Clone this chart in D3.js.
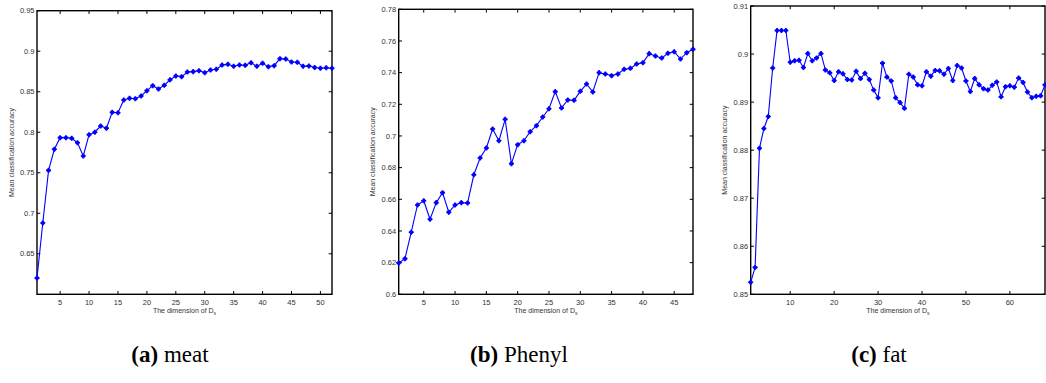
<!DOCTYPE html>
<html><head><meta charset="utf-8">
<script src="https://cdn.jsdelivr.net/npm/d3@7"></script>
<style>
html,body{margin:0;padding:0;background:#fff;}
svg{display:block;}
</style></head>
<body><svg id="chart" width="1046" height="383"></svg>
<script>
// ---- data ----
const meatValues = [0.620,0.688,0.753,0.779,0.7933,0.7933,0.7925,0.787,0.7707,0.797,0.800,0.8077,0.805,0.8246,0.8241,0.8398,0.8419,0.8414,0.8447,0.8513,0.8575,0.8534,0.8579,0.8648,0.8694,0.8686,0.8744,0.8748,0.876,0.8735,0.8768,0.8777,0.883,0.8838,0.8814,0.883,0.8826,0.8858,0.8814,0.8851,0.8809,0.8822,0.8908,0.8904,0.8867,0.8863,0.8814,0.8818,0.8800,0.8790,0.8795,0.8790];
const phenylValues = [0.6198,0.6225,0.6392,0.6564,0.6591,0.6474,0.6579,0.6642,0.6518,0.6564,0.6579,0.6577,0.6755,0.6861,0.6924,0.7044,0.697,0.7105,0.6825,0.6945,0.697,0.7027,0.7065,0.712,0.7172,0.728,0.7177,0.7227,0.7225,0.7282,0.7328,0.7278,0.740,0.7391,0.7381,0.7391,0.7421,0.7427,0.7454,0.7463,0.752,0.7505,0.7492,0.7522,0.7532,0.7486,0.7526,0.7547];
const fatValues = [0.8525,0.8556,0.8804,0.8845,0.887,0.8971,0.9049,0.9049,0.9049,0.8983,0.8986,0.8987,0.8972,0.9001,0.8986,0.8992,0.9001,0.8967,0.8961,0.8945,0.8963,0.8959,0.8947,0.8946,0.8964,0.8949,0.896,0.8947,0.8925,0.8909,0.8981,0.8952,0.8944,0.8909,0.8899,0.8887,0.8958,0.8952,0.8936,0.8934,0.8963,0.8954,0.8966,0.8965,0.8958,0.897,0.8945,0.8976,0.8971,0.8944,0.8922,0.8949,0.8936,0.8928,0.8925,0.8935,0.8942,0.8911,0.8932,0.8934,0.8931,0.895,0.8941,0.8921,0.8909,0.8912,0.8913,0.8936];

const meatXTicks = [5,10,15,20,25,30,35,40,45,50];
const meatYTicks = [0.65,0.7,0.75,0.8,0.85,0.9,0.95];
const phenylXTicks = [5,10,15,20,25,30,35,40,45];
const phenylYTicks = [0.6,0.62,0.64,0.66,0.68,0.7,0.72,0.74,0.76,0.78];
const fatXTicks = [10,20,30,40,50,60];
const fatYTicks = [0.85,0.86,0.87,0.88,0.89,0.9,0.91];

const captionLetters = ["(a)","(b)","(c)"];
const captionNames = [" meat"," Phenyl"," fat"];
const yLabel = "Mean classification accuracy";
const xLabelMain = "The dimension of D";
const xLabelSub = "s";

// ---- layout ----
const panels = [
  {values: meatValues, xTicks: meatXTicks, yTicks: meatYTicks, xDomain:[1,52], yDomain:[0.6,0.95],
   left:37, right:332, top:10.7, bottom:294.3, capX:170},
  {values: phenylValues, xTicks: phenylXTicks, yTicks: phenylYTicks, xDomain:[1,48], yDomain:[0.6,0.78],
   left:398.7, right:693, top:9.3, bottom:294.3, capX:519},
  {values: fatValues, xTicks: fatXTicks, yTicks: fatYTicks, xDomain:[1,68], yDomain:[0.85,0.91],
   left:750.7, right:1045, top:6, bottom:294.3, capX:879}
];

const svg = d3.select("#chart");
const fmt = v => String(+v.toFixed(3));

panels.forEach((p, k) => {
  const x = d3.scaleLinear().domain(p.xDomain).range([p.left, p.right]);
  const y = d3.scaleLinear().domain(p.yDomain).range([p.bottom, p.top]);
  const g = svg.append("g");

  const tl = 3.3;
  p.xTicks.forEach(t => {
    g.append("line").attr("x1", x(t)).attr("x2", x(t)).attr("y1", p.bottom).attr("y2", p.bottom - tl).attr("stroke","#000").attr("stroke-width",1);
    g.append("line").attr("x1", x(t)).attr("x2", x(t)).attr("y1", p.top).attr("y2", p.top + tl).attr("stroke","#000").attr("stroke-width",1);
    g.append("text").attr("x", x(t)).attr("y", p.bottom + 10.5).attr("text-anchor","middle")
      .attr("font-family","Liberation Sans, Arial, sans-serif").attr("font-size",7.5).attr("fill","#333").text(t);
  });
  p.yTicks.forEach(t => {
    g.append("line").attr("x1", p.left).attr("x2", p.left + tl).attr("y1", y(t)).attr("y2", y(t)).attr("stroke","#000").attr("stroke-width",1);
    g.append("line").attr("x1", p.right).attr("x2", p.right - tl).attr("y1", y(t)).attr("y2", y(t)).attr("stroke","#000").attr("stroke-width",1);
    g.append("text").attr("x", p.left - 2.5).attr("y", y(t) + 2.6).attr("text-anchor","end")
      .attr("font-family","Liberation Sans, Arial, sans-serif").attr("font-size",7.5).attr("fill","#333").text(fmt(t));
  });

  g.append("rect").attr("x", p.left).attr("y", p.top).attr("width", p.right - p.left).attr("height", p.bottom - p.top)
    .attr("fill","none").attr("stroke","#000").attr("stroke-width",1.4);

  const data = p.values.map((v, i) => [i + 1, v]);
  g.append("path").datum(data).attr("fill","none").attr("stroke","#0000ff").attr("stroke-width",1.1)
    .attr("d", d3.line().x(d => x(d[0])).y(d => y(d[1])));
  g.selectAll("circle.m").data(data).enter().append("circle").attr("class","m")
    .attr("cx", d => x(d[0])).attr("cy", d => y(d[1])).attr("r", 2).attr("fill","#0000ff");
  const star = d3.symbol().type(d3.symbolCross).size(14);
  g.selectAll("path.s").data(data).enter().append("path").attr("class","s")
    .attr("transform", d => `translate(${x(d[0])},${y(d[1])})`).attr("d", star()).attr("fill","#0000ff");

  const cy = (p.top + p.bottom) / 2;
  g.append("text").attr("transform", `translate(${p.left - 23.5},${cy}) rotate(-90)`).attr("text-anchor","middle")
    .attr("font-family","Liberation Sans, Arial, sans-serif").attr("font-size",7).attr("fill","#333").text(yLabel);

  const cx = (p.left + p.right) / 2;
  const xt = g.append("text").attr("x", cx).attr("y", p.bottom + 19).attr("text-anchor","middle")
    .attr("font-family","Liberation Sans, Arial, sans-serif").attr("font-size",7).attr("fill","#333");
  xt.append("tspan").text(xLabelMain);
  xt.append("tspan").attr("font-size",5).attr("dy",1.8).text(xLabelSub);

  const cap = svg.append("text").attr("x", p.capX).attr("y", 362).attr("text-anchor","middle")
    .attr("font-family","Liberation Serif, Times New Roman, serif").attr("font-size",23).attr("fill","#000");
  cap.append("tspan").attr("font-weight","bold").text(captionLetters[k]);
  cap.append("tspan").text(captionNames[k]);
});
</script>
</body></html>
